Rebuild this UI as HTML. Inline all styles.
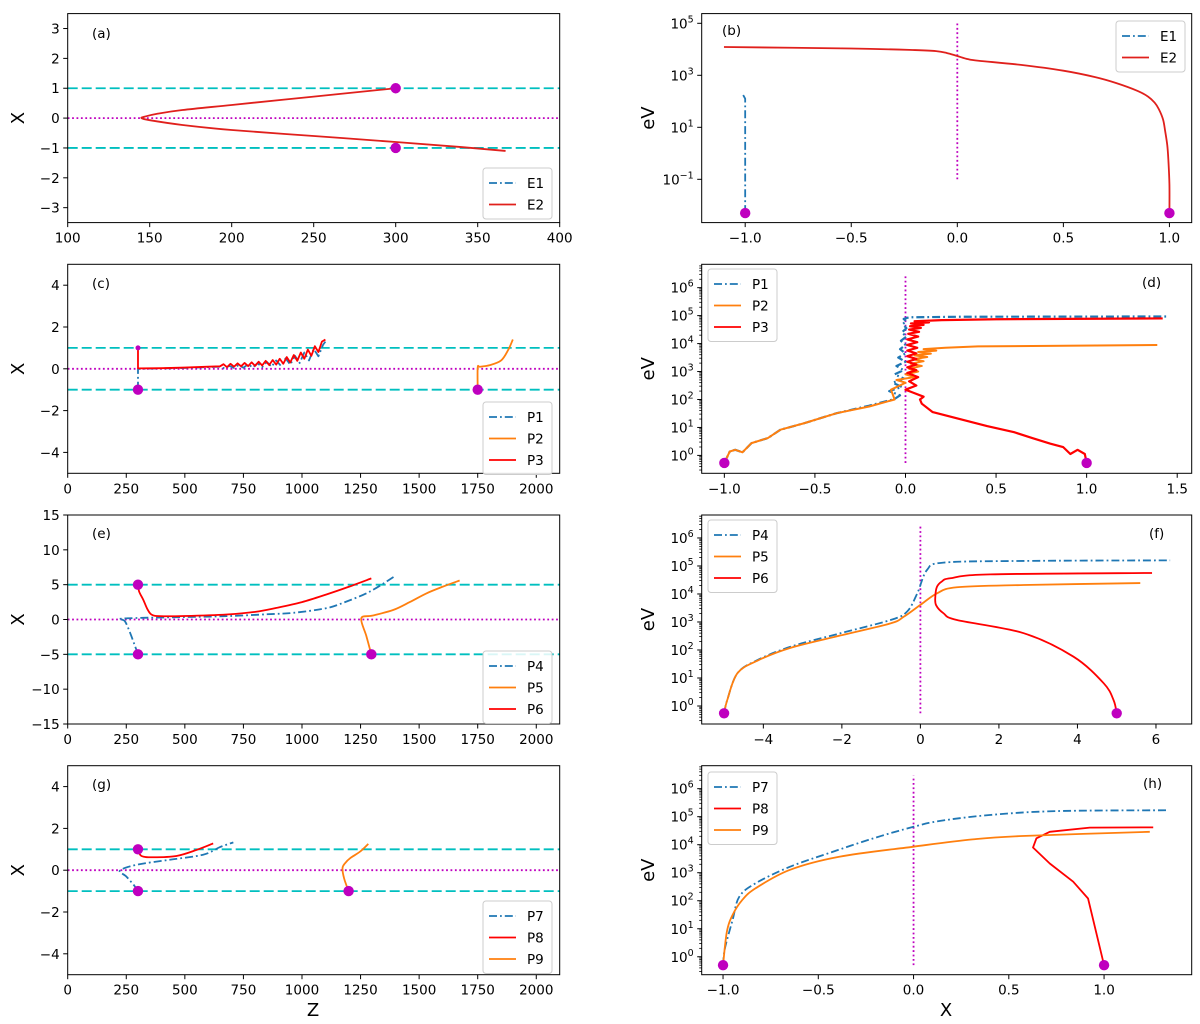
<!DOCTYPE html>
<html><head><meta charset="utf-8"><style>
html,body{margin:0;padding:0;background:#fff;}
svg{display:block;font-family:"DejaVu Sans","Liberation Sans",sans-serif;}
</style></head><body>
<svg id="fig" width="1200" height="1024" viewBox="0 0 1200 1024" xmlns="http://www.w3.org/2000/svg"></svg>
<script>
// ---------- DATA ----------
// panel a
const aE2Z = [300,250,200,170,155,147,145,150,170,200,250,300,340,367];
const aE2X = [1,0.72,0.44,0.27,0.15,0.05,0,-0.07,-0.23,-0.4,-0.6,-0.8,-0.97,-1.1];
const aE1Z = [300,300];
const aE1X = [-1,-1];
// panel b (log10 eV)
const bE1X = [-1,-1,-1.0,-1.01];
const bE1L = [-2.3,0,2.1,2.25];
const bE2X = [-1.1,-0.5,-0.2,-0.1,-0.05,0,0.05,0.1,0.3,0.5,0.65,0.75,0.85,0.9,0.93,0.95,0.97,0.98,0.99,0.995,1.0,1.0];
const bE2L = [4.088,4.03,3.97,3.93,3.86,3.742,3.62,3.56,3.4,3.177,2.93,2.7,2.4,2.177,1.95,1.7,1.3,0.85,0.3,-0.258,-1.2,-2.3];
// panel c
const cP1Z = [300,300,400,500,600,650,670,690,710,730,750,770,790,810,830,850,870,890,910,930,950,970,990,1010,1030,1050,1070,1090,1100];
const cP1X = [-1,0,0.02,0.04,0.08,0.1,0.02,0.14,0.04,0.18,0.05,0.22,0.06,0.27,0.08,0.33,0.1,0.4,0.14,0.5,0.2,0.62,0.28,0.78,0.4,0.95,0.6,1.15,1.3];
const cP3Z = [300,300,400,500,600,650,665,680,695,710,725,740,755,770,785,800,815,830,845,860,875,890,905,920,935,950,965,980,995,1010,1025,1040,1055,1070,1085,1100];
const cP3X = [1,0.02,0.03,0.06,0.1,0.12,0.22,0.08,0.24,0.1,0.26,0.12,0.28,0.13,0.31,0.14,0.34,0.16,0.38,0.18,0.42,0.2,0.48,0.24,0.56,0.3,0.66,0.38,0.78,0.48,0.92,0.62,1.08,0.8,1.3,1.4];
const cP2Z = [1750,1750,1760,1800,1850,1880,1900];
const cP2X = [-1,0.05,0.1,0.17,0.4,0.9,1.4];
// panel d (log10 eV)
const dP1X = [-1,-0.97,-0.94,-0.9,-0.85,-0.76,-0.69,-0.56,-0.38,-0.2,-0.06,-0.03,-0.09,-0.02,-0.07,-0.01,-0.06,-0.01,-0.05,0,-0.04,0,-0.03,0,-0.025,0.005,-0.02,0.005,-0.015,0.005,-0.01,0.02,0.3,1.45];
const dP1L = [-0.27,0.14,0.2,0.11,0.44,0.62,0.92,1.15,1.51,1.78,2.02,2.15,2.3,2.45,2.6,2.75,2.9,3.05,3.2,3.35,3.5,3.65,3.8,3.95,4.1,4.25,4.4,4.55,4.7,4.8,4.88,4.94,4.96,4.97];
const dP2X = [-1,-0.97,-0.94,-0.9,-0.85,-0.76,-0.69,-0.56,-0.38,-0.2,-0.06,-0.08,0,-0.05,0.05,0,0.07,0.02,0.09,0.03,0.1,0.04,0.12,0.05,0.14,0.07,0.17,0.1,0.22,0.4,1.39];
const dP2L = [-0.27,0.14,0.2,0.11,0.44,0.62,0.92,1.15,1.51,1.75,2.0,2.35,2.6,2.7,2.8,2.9,3.0,3.1,3.2,3.28,3.37,3.44,3.52,3.58,3.64,3.7,3.75,3.8,3.85,3.9,3.95];
const dP3X = [1,0.99,0.95,0.91,0.87,0.8,0.7,0.6,0.45,0.3,0.15,0.09,0.08,0.1,0.04,0.0,0.06,0.02,0.07,0.01,0.06,0.01,0.06,0.01,0.06,0.01,0.06,0.01,0.065,0.01,0.065,0.01,0.07,0.015,0.075,0.02,0.085,0.025,0.1,0.03,0.13,0.05,0.2,0.5,1.42];
const dP3L = [-0.27,0.05,0.2,0.05,0.3,0.42,0.62,0.83,1.05,1.3,1.55,1.85,2.0,2.1,2.25,2.35,2.5,2.65,2.8,2.95,3.05,3.15,3.25,3.35,3.45,3.55,3.65,3.75,3.85,3.95,4.05,4.15,4.25,4.35,4.42,4.5,4.56,4.62,4.67,4.72,4.76,4.8,4.84,4.87,4.9];
// panel e
const eP4Z = [300,285,265,244,223,323,500,678,850,963,1100,1176,1289,1400];
const eP4X = [-5,-3.6,-1.8,-0.24,0.1,0.24,0.35,0.48,0.75,0.96,1.6,2.4,4.0,6.3];
const eP6Z = [300,305,323,340,358,394,500,678,800,891,1000,1104,1200,1296];
const eP6X = [5,4.0,2.8,1.5,0.7,0.48,0.5,0.72,1.1,1.67,2.5,3.59,4.7,5.9];
const eP5Z = [1296,1275,1253,1300,1389,1460,1531,1600,1673];
const eP5X = [-5,-2.4,0.17,0.55,1.36,2.5,3.75,4.7,5.6];
// panel f (log10 eV)
const fP4X = [-5,-4.92,-4.66,-4.15,-3.3,-2.03,-0.76,-0.34,-0.08,0.17,0.59,2.63,6.36];
const fP4L = [-0.26,0.21,1.17,1.64,2.12,2.6,3.07,3.37,4.02,4.86,5.12,5.18,5.2];
const fP5X = [-5,-4.92,-4.66,-4.15,-3.3,-2.03,-0.76,-0.42,0,0.42,0.93,2.63,5.6];
const fP5L = [-0.26,0.21,1.17,1.62,2.08,2.52,2.95,3.19,3.61,4.02,4.24,4.32,4.39];
const fP6X = [5,4.92,4.67,3.9,2.63,0.93,0.59,0.4,0.38,0.42,0.55,0.76,1.78,5.9];
const fP6L = [-0.26,0.21,0.81,1.76,2.6,3.07,3.31,3.6,3.9,4.25,4.45,4.56,4.7,4.75];
// panel g
const gP7Z = [300,285,250,223,294,436,578,649,707];
const gP7X = [-1,-0.75,-0.3,-0.02,0.26,0.5,0.74,1.1,1.33];
const gP8Z = [300,315,365,464,550,621];
const gP8X = [1,0.68,0.62,0.68,0.97,1.28];
const gP9Z = [1199,1180,1173,1185,1205,1248,1283];
const gP9X = [-1,-0.4,0.1,0.35,0.57,0.89,1.26];
// panel h (log10 eV)
const hP7X = [-1,-0.99,-0.95,-0.915,-0.83,-0.65,-0.44,-0.21,0,0.14,0.4,0.75,1.34];
const hP7L = [-0.3,0.3,1.31,2.14,2.62,3.21,3.71,4.23,4.64,4.85,5.06,5.2,5.23];
const hP9X = [-1,-0.98,-0.95,-0.9,-0.83,-0.65,-0.39,0,0.31,0.57,1.24];
const hP9L = [-0.3,0.89,1.49,2.02,2.44,3.1,3.57,3.93,4.19,4.31,4.46];
const hP8X = [1.0,0.916,0.838,0.715,0.627,0.645,0.715,0.925,1.258];
const hP8L = [-0.3,2.08,2.68,3.33,3.9,4.23,4.46,4.61,4.62];
// ticks
const zTicks = [0,250,500,750,1000,1250,1500,1750,2000];
const aXTicks = [100,150,200,250,300,350,400];
const aYTicks = [-3,-2,-1,0,1,2,3];
const cYTicks = [-4,-2,0,2,4];
const eYTicks = [-15,-10,-5,0,5,10,15];
const bYTicks = [-1,1,3,5];
const logYTicks = [0,1,2,3,4,5,6];
const bXTicks = [-1.0,-0.5,0.0,0.5,1.0];
const dXTicks = [-1.0,-0.5,0.0,0.5,1.0,1.5];
const fXTicks = [-4,-2,0,2,4,6];

// ---------- DRAWING ----------
const NS = "http://www.w3.org/2000/svg";
const svg = document.getElementById('fig');
function el(tag, attrs, parent){
  const e = document.createElementNS(NS, tag);
  for (const k in attrs) e.setAttribute(k, attrs[k]);
  (parent||svg).appendChild(e);
  return e;
}
const C = {blue:'#1f77b4', orange:'#ff7f0e', red:'#ff0000', red2:'#e0201c', cyan:'#00bfbf', mag:'#bf00bf'};
const DD = '8,3,1.8,3';
const L = [67.7,559.7], R = [701.7,1191.7];
const TOPS = [13.6,264.3,515,765.7], H = 209;
function fmtNum(v, dec){ const s = v.toFixed(dec); return s.replace('-', '\u2212'); }

let clipId = 0;
function panel(name, col, row, xr, yr){
  const g = el('g', {});
  
  
  const x0 = col[0], x1 = col[1], y0 = TOPS[row], y1 = TOPS[row] + H;
  const sx = v => x0 + (v - xr[0]) / (xr[1] - xr[0]) * (x1 - x0);
  const sy = v => y1 - (v - yr[0]) / (yr[1] - yr[0]) * (y1 - y0);
  const id = 'clip' + (clipId++);
  const cp = el('clipPath', {id: id}, g);
  el('rect', {x: x0, y: y0, width: x1 - x0, height: H}, cp);
  const plot = el('g', {'clip-path': 'url(#' + id + ')'}, g);
  return {g, plot, sx, sy, x0, x1, y0, y1};
}
function frame(p){
  const r = el('rect', {x: p.x0, y: p.y0, width: p.x1 - p.x0, height: H, fill: 'none', stroke: '#000', 'stroke-width': 1}, p.g);
  
  
}
function xticks(p, vals, labels){
  vals.forEach((v, i) => {
    const x = p.sx(v);
    el('line', {x1: x, x2: x, y1: p.y1, y2: p.y1 + 4.5, stroke: '#000', 'stroke-width': 1}, p.g);
    const t = el('text', {x: x, y: p.y1 + 20, 'text-anchor': 'middle', 'font-size': 13.5}, p.g);
    
    
    t.textContent = labels[i];
  });
}
function yticks(p, vals, labels){
  vals.forEach((v, i) => {
    const y = p.sy(v);
    el('line', {x1: p.x0 - 4.5, x2: p.x0, y1: y, y2: y, stroke: '#000', 'stroke-width': 1}, p.g);
    const t = el('text', {x: p.x0 - 8, y: y + 5, 'text-anchor': 'end', 'font-size': 13.5}, p.g);
    
    
    t.textContent = labels[i];
  });
}
function logyticks(p, exps, yr, minor){
  exps.forEach(v => {
    const y = p.sy(v);
    el('line', {x1: p.x0 - 4.5, x2: p.x0, y1: y, y2: y, stroke: '#000', 'stroke-width': 1}, p.g);
    const t = el('text', {x: p.x0 - 8, y: y + 5, 'text-anchor': 'end', 'font-size': 13.5}, p.g);
    
    
    t.appendChild(document.createTextNode('10'));
    const s = el('tspan', {dy: -6, 'font-size': 9.5}, t);
    s.textContent = fmtNum(v, 0);
  });
  if (minor){
    for (let k = Math.floor(yr[0]); k < yr[1]; k++){
      for (let m = 2; m <= 9; m++){
        const lv = k + Math.log10(m);
        if (lv < yr[0] || lv > yr[1]) continue;
        const y = p.sy(lv);
        el('line', {x1: p.x0 - 2.5, x2: p.x0, y1: y, y2: y, stroke: '#000', 'stroke-width': 0.8}, p.g);
      }
    }
  }
}
function pathD(P, smooth){
  if (!smooth) return 'M' + P.map(q => q[0].toFixed(2) + ',' + q[1].toFixed(2)).join(' L');
  let d = 'M' + P[0][0].toFixed(2) + ',' + P[0][1].toFixed(2);
  for (let i = 0; i < P.length - 1; i++){
    const p0 = P[Math.max(0, i-1)], p1 = P[i], p2 = P[i+1], p3 = P[Math.min(P.length-1, i+2)];
    const c1 = [p1[0] + (p2[0]-p0[0])/6, p1[1] + (p2[1]-p0[1])/6];
    const c2 = [p2[0] - (p3[0]-p1[0])/6, p2[1] - (p3[1]-p1[1])/6];
    d += ' C' + c1[0].toFixed(2) + ',' + c1[1].toFixed(2) + ' ' + c2[0].toFixed(2) + ',' + c2[1].toFixed(2) + ' ' + p2[0].toFixed(2) + ',' + p2[1].toFixed(2);
  }
  return d;
}
function series(p, xs, ys, color, dash, name, smooth, w){
  const P = xs.map((x, i) => [p.sx(x), p.sy(ys[i])]);
  const pl = el('path', {d: pathD(P, smooth), fill: 'none', stroke: color, 'stroke-width': w || 1.8, 'stroke-linejoin': 'round'}, p.plot);
  if (dash) pl.setAttribute('stroke-dasharray', dash);
  
  
  return pl;
}
function hline(p, v, color, dash, name){
  const y = p.sy(v);
  const l = el('line', {x1: p.x0, x2: p.x1, y1: y, y2: y, stroke: color, 'stroke-width': 1.8, 'stroke-dasharray': dash}, p.plot);
  
  
}
function vline(p, x, ya, yb, name){
  const l = el('line', {x1: p.sx(x), x2: p.sx(x), y1: p.sy(ya), y2: p.sy(yb), stroke: C.mag, 'stroke-width': 1.8, 'stroke-dasharray': '1.8,2.6'}, p.plot);
  
  
}
function marker(p, x, y, r, name){
  const c = el('circle', {cx: p.sx(x), cy: p.sy(y), r: r || 5.2, fill: C.mag}, p.plot);
  
  
}
function plabel(p, x, y, txt){
  const t = el('text', {x: x, y: y, 'font-size': 13.5}, p.g);
  
  
  t.textContent = txt;
}
function legend(p, x, y, entries){
  const g = el('g', {}, p.g);
  
  
  const h = 8 + entries.length * 21.5;
  el('rect', {x: x, y: y, width: 69, height: h, rx: 3, fill: '#fff', 'fill-opacity': 0.85, stroke: '#cccccc', 'stroke-width': 1}, g);
  entries.forEach((e, i) => {
    const yy = y + 15 + i * 21.5;
    const ln = el('line', {x1: x + 6, x2: x + 33, y1: yy, y2: yy, stroke: e[1], 'stroke-width': 1.8}, g);
    if (e[2]) ln.setAttribute('stroke-dasharray', e[2]);
    
    
    const t = el('text', {x: x + 44, y: yy + 5, 'font-size': 13.5}, g);
    
    
    t.textContent = e[0];
  });
}
function axisLabel(x, y, txt, rot, name){
  const t = el('text', {x: x, y: y, 'text-anchor': 'middle', 'font-size': 18});
  if (rot) t.setAttribute('transform', 'rotate(-90 ' + x + ' ' + y + ')');
  
  
  t.textContent = txt;
}

// ---- panel a ----
(function(){
  const p = panel('panel-a', L, 0, [100,400], [-3.5,3.5]);
  hline(p, 1, C.cyan, '10,4', 'boundary-upper');
  hline(p, -1, C.cyan, '10,4', 'boundary-lower');
  hline(p, 0, C.mag, '1.8,2.6', 'center-line');
  series(p, aE1Z, aE1X, C.blue, DD, 'series-e1');
  series(p, aE2Z, aE2X, C.red2, null, 'series-e2', true);
  marker(p, 300, 1, 5.2, 'start-marker');
  marker(p, 300, -1, 5.2, 'start-marker');
  frame(p);
  xticks(p, aXTicks, aXTicks.map(v => String(v)));
  yticks(p, aYTicks, aYTicks.map(v => fmtNum(v, 0)));
  plabel(p, 92, 38, '(a)');
  legend(p, 483, 168, [['E1', C.blue, DD], ['E2', C.red2, null]]);
})();
// ---- panel b ----
(function(){
  const yr = [-2.665,5.373];
  const p = panel('panel-b', R, 0, [-1.205,1.105], yr);
  vline(p, 0, -1, 5, 'center-line');
  series(p, bE1X, bE1L, C.blue, DD, 'series-e1');
  series(p, bE2X, bE2L, C.red2, null, 'series-e2', true);
  marker(p, -1, -2.3, 5.2, 'start-marker');
  marker(p, 1, -2.3, 5.2, 'start-marker');
  frame(p);
  xticks(p, bXTicks, bXTicks.map(v => fmtNum(v, 1)));
  logyticks(p, bYTicks, yr, false);
  plabel(p, 722, 35, '(b)');
  legend(p, 1116, 21, [['E1', C.blue, DD], ['E2', C.red2, null]]);
})();
// ---- panel c ----
(function(){
  const p = panel('panel-c', L, 1, [0,2100], [-5,5]);
  hline(p, 1, C.cyan, '10,4', 'boundary-upper');
  hline(p, -1, C.cyan, '10,4', 'boundary-lower');
  hline(p, 0, C.mag, '1.8,2.6', 'center-line');
  series(p, cP1Z, cP1X, C.blue, DD, 'series-p1');
  series(p, cP2Z, cP2X, C.orange, null, 'series-p2', true);
  series(p, cP3Z, cP3X, C.red, null, 'series-p3');
  marker(p, 300, 1, 2.5, 'start-marker');
  marker(p, 300, -1, 5.2, 'start-marker');
  marker(p, 1750, -1, 5.2, 'start-marker');
  frame(p);
  xticks(p, zTicks, zTicks.map(v => String(v)));
  yticks(p, cYTicks, cYTicks.map(v => fmtNum(v, 0)));
  plabel(p, 92, 288, '(c)');
  legend(p, 483, 402, [['P1', C.blue, DD], ['P2', C.orange, null], ['P3', C.red, null]]);
})();
// ---- panel d ----
(function(){
  const yr = [-0.64,6.836];
  const p = panel('panel-d', R, 1, [-1.125,1.58], yr);
  vline(p, 0, -0.27, 6.48, 'center-line');
  series(p, dP1X, dP1L, C.blue, DD, 'series-p1', false, 2.2);
  series(p, dP2X, dP2L, C.orange, null, 'series-p2', false, 2);
  series(p, dP3X, dP3L, C.red, null, 'series-p3', false, 2.2);
  marker(p, -1, -0.27, 5.2, 'start-marker');
  marker(p, 1, -0.27, 5.2, 'start-marker');
  frame(p);
  xticks(p, dXTicks, dXTicks.map(v => fmtNum(v, 1)));
  logyticks(p, logYTicks, yr, true);
  plabel(p, 1142, 287, '(d)');
  legend(p, 708, 269, [['P1', C.blue, DD], ['P2', C.orange, null], ['P3', C.red, null]]);
})();
// ---- panel e ----
(function(){
  const p = panel('panel-e', L, 2, [0,2100], [-15,15]);
  hline(p, 5, C.cyan, '10,4', 'boundary-upper');
  hline(p, -5, C.cyan, '10,4', 'boundary-lower');
  hline(p, 0, C.mag, '1.8,2.6', 'center-line');
  series(p, eP4Z, eP4X, C.blue, DD, 'series-p4', true);
  series(p, eP5Z, eP5X, C.orange, null, 'series-p5', true);
  series(p, eP6Z, eP6X, C.red, null, 'series-p6', true);
  marker(p, 300, 5, 5.2, 'start-marker');
  marker(p, 300, -5, 5.2, 'start-marker');
  marker(p, 1296, -5, 5.2, 'start-marker');
  frame(p);
  xticks(p, zTicks, zTicks.map(v => String(v)));
  yticks(p, eYTicks, eYTicks.map(v => fmtNum(v, 0)));
  plabel(p, 92, 538, '(e)');
  legend(p, 483, 651, [['P4', C.blue, DD], ['P5', C.orange, null], ['P6', C.red, null]]);
})();
// ---- panel f ----
(function(){
  const yr = [-0.643,6.82];
  const p = panel('panel-f', R, 2, [-5.57,6.91], yr);
  vline(p, 0, -0.26, 6.46, 'center-line');
  series(p, fP4X, fP4L, C.blue, DD, 'series-p4', true);
  series(p, fP5X, fP5L, C.orange, null, 'series-p5', true);
  series(p, fP6X, fP6L, C.red, null, 'series-p6', true);
  marker(p, -5, -0.26, 5.2, 'start-marker');
  marker(p, 5, -0.26, 5.2, 'start-marker');
  frame(p);
  xticks(p, fXTicks, fXTicks.map(v => fmtNum(v, 0)));
  logyticks(p, logYTicks, yr, true);
  plabel(p, 1149, 538, '(f)');
  legend(p, 708, 520, [['P4', C.blue, DD], ['P5', C.orange, null], ['P6', C.red, null]]);
})();
// ---- panel g ----
(function(){
  const p = panel('panel-g', L, 3, [0,2100], [-5,5]);
  hline(p, 1, C.cyan, '10,4', 'boundary-upper');
  hline(p, -1, C.cyan, '10,4', 'boundary-lower');
  hline(p, 0, C.mag, '1.8,2.6', 'center-line');
  series(p, gP7Z, gP7X, C.blue, DD, 'series-p7', true);
  series(p, gP8Z, gP8X, C.red, null, 'series-p8', true);
  series(p, gP9Z, gP9X, C.orange, null, 'series-p9', true);
  marker(p, 300, 1, 5.2, 'start-marker');
  marker(p, 300, -1, 5.2, 'start-marker');
  marker(p, 1199, -1, 5.2, 'start-marker');
  frame(p);
  xticks(p, zTicks, zTicks.map(v => String(v)));
  yticks(p, cYTicks, cYTicks.map(v => fmtNum(v, 0)));
  plabel(p, 92, 789, '(g)');
  legend(p, 483, 901, [['P7', C.blue, DD], ['P8', C.red, null], ['P9', C.orange, null]]);
})();
// ---- panel h ----
(function(){
  const yr = [-0.64,6.82];
  const p = panel('panel-h', R, 3, [-1.112,1.46], yr);
  vline(p, 0, -0.3, 6.46, 'center-line');
  series(p, hP7X, hP7L, C.blue, DD, 'series-p7', true);
  series(p, hP8X, hP8L, C.red, null, 'series-p8');
  series(p, hP9X, hP9L, C.orange, null, 'series-p9', true);
  marker(p, -1, -0.3, 5.2, 'start-marker');
  marker(p, 1, -0.3, 5.2, 'start-marker');
  frame(p);
  xticks(p, bXTicks, bXTicks.map(v => fmtNum(v, 1)));
  logyticks(p, logYTicks, yr, true);
  plabel(p, 1143, 788, '(h)');
  legend(p, 708, 772, [['P7', C.blue, DD], ['P8', C.red, null], ['P9', C.orange, null]]);
})();

// axis titles
[0,1,2,3].forEach(r => {
  axisLabel(24, TOPS[r] + H/2, 'X', true, 'y-axis-title-x');
  axisLabel(654, TOPS[r] + H/2, 'eV', true, 'y-axis-title-ev');
});
axisLabel(313, 1016, 'Z', false, 'x-axis-title-z');
axisLabel(946, 1016, 'X', false, 'x-axis-title-x');
</script>
</body></html>
